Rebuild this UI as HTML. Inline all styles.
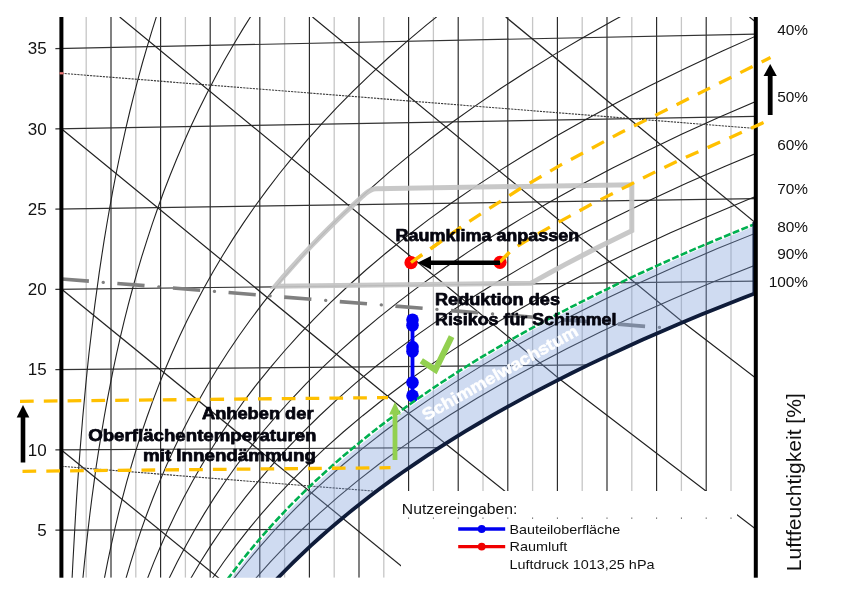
<!DOCTYPE html>
<html lang="de"><head><meta charset="utf-8"><title>Mollier h-x Diagramm</title>
<style>
html,body{margin:0;padding:0;background:#fff}
body{width:851px;height:600px;position:relative;overflow:hidden;font-family:"Liberation Sans",sans-serif}
svg{position:absolute;left:0;top:0;display:block}
</style></head><body>
<svg width="851" height="600" viewBox="0 0 851 600">
<defs><clipPath id="plot"><rect x="50" y="17" width="705.8" height="560.7"/></clipPath>
<clipPath id="above"><path d="M223,642.7 L229.1,634.7 L235.4,626.6 L241.9,618.5 L248.6,610.5 L255.6,602.4 L262.7,594.3 L270.1,586.2 L277.8,578.1 L285.7,570 L293.8,561.9 L302.2,553.8 L310.9,545.6 L319.9,537.5 L329.1,529.4 L338.7,521.2 L348.5,513.1 L358.7,504.9 L369.2,496.8 L380,488.6 L391.1,480.4 L402.6,472.3 L414.5,464.1 L426.7,455.9 L439.3,447.7 L452.3,439.4 L465.6,431.2 L479.4,423 L493.6,414.7 L508.3,406.4 L523.4,398.2 L538.9,389.9 L554.9,381.6 L571.4,373.3 L588.4,364.9 L605.9,356.6 L623.9,348.2 L642.4,339.8 L661.5,331.4 L681.1,323 L701.4,314.6 L722.2,306.2 L743.6,297.7 L765.7,289.2 L788.4,280.7 L811.7,272.2 L835.7,263.6 L860.5,255 L885.9,246.4 L912.1,237.8 L939,229.2 L966.7,220.5 L995.1,211.8 L1024.4,203 L1054.5,194.3 L1085.5,185.5 L1117.4,176.6 L1117.4,0 L0,0 L0,600 Z"/></clipPath></defs>
<rect width="851" height="600" fill="#fff"/>
<g clip-path="url(#plot)" fill="none">
<line x1="86.2" y1="17" x2="86.2" y2="577.7" stroke="#c6c6c6" stroke-width="1.3"/>
<line x1="111" y1="17" x2="111" y2="577.7" stroke="#262626" stroke-width="1.15"/>
<line x1="135.8" y1="17" x2="135.8" y2="577.7" stroke="#c6c6c6" stroke-width="1.3"/>
<line x1="160.6" y1="17" x2="160.6" y2="577.7" stroke="#262626" stroke-width="1.15"/>
<line x1="185.4" y1="17" x2="185.4" y2="577.7" stroke="#c6c6c6" stroke-width="1.3"/>
<line x1="210.2" y1="17" x2="210.2" y2="577.7" stroke="#262626" stroke-width="1.15"/>
<line x1="235" y1="17" x2="235" y2="577.7" stroke="#c6c6c6" stroke-width="1.3"/>
<line x1="259.8" y1="17" x2="259.8" y2="577.7" stroke="#262626" stroke-width="1.15"/>
<line x1="284.6" y1="17" x2="284.6" y2="577.7" stroke="#c6c6c6" stroke-width="1.3"/>
<line x1="309.4" y1="17" x2="309.4" y2="577.7" stroke="#262626" stroke-width="1.15"/>
<line x1="334.2" y1="17" x2="334.2" y2="577.7" stroke="#c6c6c6" stroke-width="1.3"/>
<line x1="359" y1="17" x2="359" y2="577.7" stroke="#262626" stroke-width="1.15"/>
<line x1="383.8" y1="17" x2="383.8" y2="577.7" stroke="#c6c6c6" stroke-width="1.3"/>
<line x1="408.6" y1="17" x2="408.6" y2="577.7" stroke="#262626" stroke-width="1.15"/>
<line x1="433.4" y1="17" x2="433.4" y2="577.7" stroke="#c6c6c6" stroke-width="1.3"/>
<line x1="458.2" y1="17" x2="458.2" y2="577.7" stroke="#262626" stroke-width="1.15"/>
<line x1="483" y1="17" x2="483" y2="577.7" stroke="#c6c6c6" stroke-width="1.3"/>
<line x1="507.8" y1="17" x2="507.8" y2="577.7" stroke="#262626" stroke-width="1.15"/>
<line x1="532.6" y1="17" x2="532.6" y2="577.7" stroke="#c6c6c6" stroke-width="1.3"/>
<line x1="557.4" y1="17" x2="557.4" y2="577.7" stroke="#262626" stroke-width="1.15"/>
<line x1="582.2" y1="17" x2="582.2" y2="577.7" stroke="#c6c6c6" stroke-width="1.3"/>
<line x1="607" y1="17" x2="607" y2="577.7" stroke="#262626" stroke-width="1.15"/>
<line x1="631.8" y1="17" x2="631.8" y2="577.7" stroke="#c6c6c6" stroke-width="1.3"/>
<line x1="656.6" y1="17" x2="656.6" y2="577.7" stroke="#262626" stroke-width="1.15"/>
<line x1="681.4" y1="17" x2="681.4" y2="577.7" stroke="#c6c6c6" stroke-width="1.3"/>
<line x1="706.2" y1="17" x2="706.2" y2="577.7" stroke="#262626" stroke-width="1.15"/>
<line x1="731" y1="17" x2="731" y2="577.7" stroke="#c6c6c6" stroke-width="1.3"/>
<line x1="55.4" y1="530.2" x2="329.1" y2="529.4" stroke="#333" stroke-width="1.2"/>
<line x1="55.4" y1="449.9" x2="439.3" y2="447.7" stroke="#333" stroke-width="1.2"/>
<line x1="55.4" y1="369.7" x2="588.4" y2="364.9" stroke="#333" stroke-width="1.2"/>
<line x1="55.4" y1="289.4" x2="755.8" y2="281.1" stroke="#333" stroke-width="1.2"/>
<line x1="55.4" y1="209.1" x2="755.8" y2="198.7" stroke="#333" stroke-width="1.2"/>
<line x1="55.4" y1="128.9" x2="755.8" y2="116.4" stroke="#333" stroke-width="1.2"/>
<line x1="55.4" y1="48.6" x2="755.8" y2="34.1" stroke="#333" stroke-width="1.2"/>
<path d="M70.1,626.5 L70.7,610.5 L71.4,594.4 L72.1,578.3 L72.9,562.3 L73.8,546.2 L74.7,530.1 L75.6,514.1 L76.6,498 L77.7,481.9 L78.9,465.9 L80.1,449.8 L81.4,433.7 L82.7,417.7 L84.2,401.6 L85.7,385.5 L87.3,369.4 L89,353.3 L90.9,337.2 L92.8,321.2 L94.8,305.1 L97,289 L99.2,272.9 L101.6,256.8 L104.1,240.6 L106.8,224.5 L109.6,208.4 L112.5,192.3 L115.6,176.1 L118.9,160 L122.4,143.9 L126,127.7 L129.8,111.5 L133.8,95.4 L138,79.2 L142.4,63 L147.1,46.8 L152,30.6 L157.1,14.4 L162.4,-1.9 L168.1,-18.1 L174,-34.4 L180.2,-50.6 L186.6,-66.9 L193.4,-83.2 L200.5,-99.5 L207.9,-115.9" stroke="#222" stroke-width="1.1"/>
<path d="M78.7,626.5 L80,610.5 L81.4,594.4 L82.9,578.3 L84.5,562.2 L86.2,546.2 L88,530.1 L89.9,514 L91.9,498 L94.1,481.9 L96.3,465.8 L98.8,449.7 L101.4,433.6 L104.1,417.5 L107,401.4 L110.1,385.3 L113.3,369.2 L116.7,353.1 L120.4,336.9 L124.2,320.8 L128.3,304.7 L132.6,288.5 L137.1,272.4 L141.9,256.2 L147,240.1 L152.3,223.9 L157.9,207.7 L163.8,191.5 L170.1,175.3 L176.7,159 L183.6,142.8 L190.8,126.5 L198.5,110.3 L206.6,94 L215,77.7 L223.9,61.3 L233.3,45 L243.1,28.6 L253.4,12.2 L264.2,-4.2 L275.5,-20.6 L287.4,-37.1 L299.8,-53.6 L312.9,-70.1 L326.5,-86.7 L340.9,-103.2 L355.9,-119.9" stroke="#222" stroke-width="1.1"/>
<path d="M96,626.5 L98.7,610.5 L101.5,594.4 L104.4,578.3 L107.6,562.2 L111,546.1 L114.6,530 L118.4,513.9 L122.5,497.8 L126.8,481.7 L131.4,465.6 L136.2,449.5 L141.4,433.3 L146.9,417.2 L152.7,401.1 L158.9,384.9 L165.4,368.7 L172.3,352.5 L179.6,336.3 L187.3,320.1 L195.5,303.9 L204.1,287.7 L213.2,271.4 L222.8,255.2 L233,238.9 L243.7,222.6 L255,206.2 L267,189.9 L279.5,173.5 L292.8,157.1 L306.7,140.7 L321.4,124.2 L336.8,107.7 L353.1,91.2 L370.2,74.6 L388.1,58 L407,41.4 L426.9,24.7 L447.7,7.9 L469.6,-8.8 L492.6,-25.7 L516.7,-42.6 L542,-59.5 L568.5,-76.5 L596.3,-93.6 L625.4,-110.7 L656,-127.9" stroke="#222" stroke-width="1.1"/>
<path d="M113.4,626.5 L117.3,610.5 L121.5,594.4 L126,578.3 L130.8,562.2 L135.8,546.1 L141.2,529.9 L147,513.8 L153.1,497.7 L159.6,481.6 L166.5,465.4 L173.8,449.2 L181.6,433.1 L189.8,416.9 L198.6,400.7 L207.8,384.5 L217.6,368.3 L228,352 L239,335.7 L250.6,319.5 L262.9,303.2 L275.9,286.8 L289.7,270.5 L304.2,254.1 L319.5,237.7 L335.7,221.2 L352.8,204.8 L370.8,188.3 L389.8,171.7 L409.8,155.1 L430.8,138.5 L453,121.8 L476.4,105.1 L501,88.3 L526.9,71.5 L554.1,54.6 L582.8,37.7 L612.9,20.7 L644.5,3.6 L677.8,-13.6 L712.7,-30.8 L749.4,-48.1 L787.9,-65.5 L828.3,-83.1 L870.8,-100.7 L915.3,-118.4 L962,-136.2" stroke="#222" stroke-width="1.1"/>
<path d="M130.8,626.5 L136,610.5 L141.6,594.3 L147.6,578.2 L153.9,562.1 L160.7,546 L167.9,529.9 L175.6,513.7 L183.8,497.6 L192.4,481.4 L201.7,465.2 L211.4,449 L221.8,432.8 L232.9,416.6 L244.5,400.3 L256.9,384.1 L270.1,367.8 L284,351.5 L298.7,335.1 L314.2,318.8 L330.7,302.4 L348.1,286 L366.5,269.5 L386,253 L406.5,236.5 L428.2,219.9 L451.1,203.3 L475.3,186.6 L500.8,169.9 L527.6,153.2 L556,136.3 L585.8,119.4 L617.2,102.5 L650.3,85.5 L685.2,68.4 L721.9,51.2 L760.5,34 L801.1,16.6 L843.8,-0.8 L888.7,-18.4 L935.9,-36 L985.6,-53.8 L1037.7,-71.7 L1092.5,-89.7 L1150.1,-107.8 L1210.5,-126.1 L1274,-144.6" stroke="#222" stroke-width="1.1"/>
<path d="M148.2,626.6 L154.7,610.5 L161.7,594.3 L169.2,578.2 L177.2,562.1 L185.7,545.9 L194.7,529.8 L204.3,513.6 L214.5,497.4 L225.4,481.2 L236.9,465 L249.2,448.8 L262.2,432.5 L276,416.3 L290.7,400 L306.2,383.7 L322.7,367.3 L340.1,350.9 L358.6,334.5 L378.1,318.1 L398.8,301.6 L420.6,285.1 L443.8,268.5 L468.2,251.9 L494,235.3 L521.3,218.6 L550.1,201.8 L580.5,185 L612.6,168.1 L646.4,151.2 L682.1,134.1 L719.7,117 L759.3,99.9 L801.1,82.6 L845.1,65.2 L891.4,47.8 L940.2,30.2 L991.6,12.5 L1045.7,-5.3 L1102.5,-23.2 L1162.4,-41.3 L1225.3,-59.5 L1291.5,-77.9 L1361.1,-96.4 L1434.3,-115.2 L1511.3,-134.1 L1592.2,-153.2" stroke="#222" stroke-width="1.1"/>
<path d="M165.6,626.6 L173.5,610.5 L181.9,594.3 L190.9,578.2 L200.4,562 L210.6,545.9 L221.5,529.7 L233,513.5 L245.3,497.3 L258.4,481.1 L272.3,464.8 L287,448.6 L302.7,432.3 L319.3,416 L336.9,399.6 L355.6,383.2 L375.4,366.8 L396.4,350.4 L418.7,333.9 L442.2,317.4 L467.1,300.8 L493.5,284.2 L521.4,267.6 L550.9,250.8 L582,234.1 L614.9,217.2 L649.7,200.3 L686.4,183.3 L725.2,166.3 L766.1,149.2 L809.2,131.9 L854.7,114.6 L902.7,97.2 L953.3,79.7 L1006.6,62 L1062.8,44.3 L1122,26.4 L1184.4,8.3 L1250.1,-9.8 L1319.3,-28.2 L1392.1,-46.7 L1468.7,-65.4 L1549.4,-84.2 L1634.3,-103.3 L1723.7,-122.6 L1817.8,-142.1 L1916.7,-161.9" stroke="#222" stroke-width="1.1"/>
<path d="M183,626.6 L192.2,610.5 L202.1,594.3 L212.5,578.2 L223.7,562 L235.6,545.8 L248.3,529.6 L261.8,513.4 L276.2,497.2 L291.5,480.9 L307.7,464.6 L324.9,448.3 L343.3,432 L362.7,415.7 L383.3,399.3 L405.2,382.8 L428.4,366.4 L453,349.9 L479,333.3 L506.6,316.7 L535.8,300 L566.7,283.3 L599.4,266.6 L634,249.7 L670.5,232.8 L709.1,215.9 L749.9,198.8 L793.1,181.7 L838.6,164.5 L886.7,147.1 L937.4,129.7 L990.9,112.2 L1047.4,94.5 L1107,76.7 L1169.8,58.8 L1236.1,40.7 L1305.9,22.5 L1379.6,4.1 L1457.2,-14.4 L1538.9,-33.2 L1625.1,-52.1 L1715.9,-71.3 L1811.5,-90.7 L1912.2,-110.3 L2018.4,-130.2 L2130.1,-150.4 L2247.9,-170.8" stroke="#222" stroke-width="1.1"/>
<path d="M200.5,626.6 L211,610.5 L222.3,594.3 L234.3,578.1 L247.1,562 L260.7,545.8 L275.2,529.5 L290.7,513.3 L307.1,497 L324.6,480.8 L343.2,464.5 L363,448.1 L383.9,431.7 L406.2,415.3 L429.9,398.9 L454.9,382.4 L481.5,365.9 L509.7,349.3 L539.6,332.7 L571.3,316 L604.8,299.3 L640.2,282.5 L677.8,265.6 L717.5,248.6 L759.5,231.6 L803.9,214.5 L850.8,197.3 L900.4,180 L952.8,162.6 L1008.2,145.1 L1066.6,127.5 L1128.3,109.7 L1193.5,91.8 L1262.2,73.8 L1334.7,55.6 L1411.3,37.2 L1492,18.6 L1577.1,-0.1 L1666.9,-19.1 L1761.6,-38.2 L1861.5,-57.6 L1966.8,-77.3 L2077.9,-97.2 L2194.9,-117.4 L2318.4,-137.9 L2448.5,-158.7 L2585.8,-179.9" stroke="#222" stroke-width="1.1"/>
<path d="M217.9,626.6 L229.8,610.5 L242.5,594.3 L256,578.1 L270.4,561.9 L285.8,545.7 L302.1,529.5 L319.6,513.2 L338.1,496.9 L357.8,480.6 L378.8,464.3 L401.1,447.9 L424.7,431.5 L449.9,415 L476.5,398.5 L504.8,382 L534.9,365.4 L566.7,348.8 L600.4,332.1 L636.2,315.3 L674,298.5 L714.1,281.6 L756.6,264.6 L801.5,247.5 L849,230.4 L899.2,213.1 L952.4,195.8 L1008.5,178.3 L1067.9,160.8 L1130.6,143.1 L1196.9,125.2 L1266.9,107.2 L1340.8,89.1 L1418.9,70.8 L1501.3,52.3 L1588.3,33.6 L1680.2,14.7 L1777.1,-4.4 L1879.5,-23.8 L1987.4,-43.4 L2101.4,-63.2 L2221.7,-83.4 L2348.6,-103.8 L2482.5,-124.6 L2623.9,-145.8 L2773.1,-167.3 L2930.7,-189.2" stroke="#222" stroke-width="1.1"/>
<line x1="61.4" y1="450" x2="760" y2="1018.7" stroke="#222" stroke-width="1.2"/>
<line x1="61.4" y1="289" x2="760" y2="858.4" stroke="#222" stroke-width="1.2"/>
<path d="M61.4,128.7 L445.9,444 L760,695.3" stroke="#222" stroke-width="1.2"/>
<path d="M119.7,17 L560.2,379.5 L760,532.4" stroke="#222" stroke-width="1.2"/>
<path d="M312.5,17 L683,322.3 L760,381.2" stroke="#222" stroke-width="1.2"/>
<line x1="505.7" y1="17" x2="760" y2="226.5" stroke="#222" stroke-width="1.2"/>
<line x1="749.5" y1="17" x2="756" y2="22.3" stroke="#222" stroke-width="1.2"/>
<g clip-path="url(#above)">
<line x1="61.4" y1="73.3" x2="755.8" y2="128.5" stroke="#3a3a3a" stroke-width="1.1" stroke-dasharray="2.2 1"/>
<line x1="61.4" y1="466.3" x2="755.8" y2="521.5" stroke="#3a3a3a" stroke-width="1.1" stroke-dasharray="2.2 1"/>
</g>
<line x1="61.7" y1="279" x2="665" y2="327.9" stroke="#808080" stroke-width="3.7" stroke-dasharray="27.3 28.5"/>
<line x1="61.7" y1="279" x2="665" y2="327.9" stroke="#808080" stroke-width="3.3" stroke-linecap="round" stroke-dasharray="0.1 55.7" stroke-dashoffset="-41.6"/>
<line x1="412.5" y1="320" x2="412.5" y2="395" stroke="#0000f5" stroke-width="3.8"/>
<circle cx="412.5" cy="319.7" r="6.3" fill="#0000f5"/>
<circle cx="412.5" cy="325.3" r="6.3" fill="#0000f5"/>
<circle cx="412.5" cy="347.1" r="6.3" fill="#0000f5"/>
<circle cx="412.5" cy="351.2" r="6.3" fill="#0000f5"/>
<circle cx="412.5" cy="382.5" r="6.3" fill="#0000f5"/>
<circle cx="412.5" cy="395.8" r="6.3" fill="#0000f5"/>
<path d="M208.4,611.5 L213.8,603.4 L219.3,595.3 L225,587.2 L230.9,579.1 L237,571.1 L243.3,563 L249.7,554.9 L256.4,546.8 L263.3,538.7 L270.4,530.6 L277.8,522.5 L285.4,514.3 L293.2,506.2 L301.3,498.1 L309.6,489.9 L318.2,481.8 L327,473.7 L336.1,465.5 L345.5,457.3 L355.2,449.2 L365.2,441 L375.4,432.8 L386,424.6 L397,416.4 L408.2,408.2 L419.8,400 L431.7,391.8 L444,383.5 L456.6,375.3 L469.7,367 L483.1,358.7 L496.9,350.5 L511.1,342.2 L525.7,333.9 L540.8,325.5 L556.3,317.2 L572.2,308.8 L588.6,300.5 L605.5,292.1 L622.8,283.7 L640.7,275.3 L659.1,266.9 L678,258.4 L697.4,249.9 L717.4,241.5 L737.9,233 L759,224.4 L780.8,215.9 L803.1,207.3 L826,198.7 L849.6,190.1 L873.9,181.5 L898.8,172.8 L924.4,164.1 L950.7,155.4 L977.8,146.7 L1005.6,137.9 L1034.1,129.1 L1063.5,120.2 L1093.6,111.4 L1117.4,176.6 L1085.5,185.5 L1054.5,194.3 L1024.4,203 L995.1,211.8 L966.7,220.5 L939,229.2 L912.1,237.8 L885.9,246.4 L860.5,255 L835.7,263.6 L811.7,272.2 L788.4,280.7 L765.7,289.2 L743.6,297.7 L722.2,306.2 L701.4,314.6 L681.1,323 L661.5,331.4 L642.4,339.8 L623.9,348.2 L605.9,356.6 L588.4,364.9 L571.4,373.3 L554.9,381.6 L538.9,389.9 L523.4,398.2 L508.3,406.4 L493.6,414.7 L479.4,423 L465.6,431.2 L452.3,439.4 L439.3,447.7 L426.7,455.9 L414.5,464.1 L402.6,472.3 L391.1,480.4 L380,488.6 L369.2,496.8 L358.7,504.9 L348.5,513.1 L338.7,521.2 L329.1,529.4 L319.9,537.5 L310.9,545.6 L302.2,553.8 L293.8,561.9 L285.7,570 L277.8,578.1 L270.1,586.2 L262.7,594.3 L255.6,602.4 L248.6,610.5 L241.9,618.5 L235.4,626.6 L229.1,634.7 L223,642.7Z" fill="#7a9ad8" fill-opacity="0.36" stroke="none"/>
<path d="M205.9,610.5 L211.3,602.4 L216.8,594.3 L222.5,586.2 L228.4,578.1 L234.5,570.1 L240.8,562 L247.2,553.9 L253.9,545.8 L260.8,537.7 L267.9,529.6 L275.3,521.5 L282.9,513.3 L290.7,505.2 L298.8,497.1 L307.1,488.9 L315.7,480.8 L324.5,472.7 L333.6,464.5 L343,456.3 L352.7,448.2 L362.7,440 L372.9,431.8 L383.5,423.6 L394.5,415.4 L405.7,407.2 L417.3,399 L429.2,390.8 L441.5,382.5 L454.1,374.3 L467.2,366 L480.6,357.7 L494.4,349.5 L508.6,341.2 L523.2,332.9 L538.3,324.5 L553.8,316.2 L569.7,307.8 L586.1,299.5 L603,291.1 L620.3,282.7 L638.2,274.3 L656.6,265.9 L675.5,257.4 L694.9,248.9 L714.9,240.5 L735.4,232 L756.5,223.4 L778.3,214.9 L800.6,206.3 L823.5,197.7 L847.1,189.1 L871.4,180.5 L896.3,171.8 L921.9,163.1 L948.2,154.4 L975.3,145.7 L1003.1,136.9 L1031.6,128.1 L1061,119.2 L1091.1,110.4" stroke="#00b050" stroke-width="2.6" stroke-dasharray="7 2.4"/>
<path d="M223,642.7 L229.1,634.7 L235.4,626.6 L241.9,618.5 L248.6,610.5 L255.6,602.4 L262.7,594.3 L270.1,586.2 L277.8,578.1 L285.7,570 L293.8,561.9 L302.2,553.8 L310.9,545.6 L319.9,537.5 L329.1,529.4 L338.7,521.2 L348.5,513.1 L358.7,504.9 L369.2,496.8 L380,488.6 L391.1,480.4 L402.6,472.3 L414.5,464.1 L426.7,455.9 L439.3,447.7 L452.3,439.4 L465.6,431.2 L479.4,423 L493.6,414.7 L508.3,406.4 L523.4,398.2 L538.9,389.9 L554.9,381.6 L571.4,373.3 L588.4,364.9 L605.9,356.6 L623.9,348.2 L642.4,339.8 L661.5,331.4 L681.1,323 L701.4,314.6 L722.2,306.2 L743.6,297.7 L765.7,289.2 L788.4,280.7 L811.7,272.2 L835.7,263.6 L860.5,255 L885.9,246.4 L912.1,237.8 L939,229.2 L966.7,220.5 L995.1,211.8 L1024.4,203 L1054.5,194.3 L1085.5,185.5 L1117.4,176.6" stroke="#0f1c3a" stroke-width="3.8"/>
<line x1="753.3" y1="222" x2="753.3" y2="293" stroke="#0f1c3a" stroke-width="1.6"/>
</g>
<rect x="59.4" y="17" width="4" height="560.7" fill="#000"/>
<rect x="753.8" y="17" width="4" height="560.7" fill="#000"/>
<rect x="59.6" y="72.2" width="4" height="2.2" fill="#f07878"/>
<rect x="401" y="491" width="336" height="87" fill="#fff"/>
<rect x="408.1" y="517.5" width="1" height="1.3" fill="#555"/>
<rect x="432.9" y="517.5" width="1" height="1.3" fill="#555"/>
<rect x="457.7" y="517.5" width="1" height="1.3" fill="#555"/>
<rect x="482.5" y="517.5" width="1" height="1.3" fill="#555"/>
<rect x="507.3" y="517.5" width="1" height="1.3" fill="#555"/>
<rect x="532.1" y="517.5" width="1" height="1.3" fill="#555"/>
<rect x="556.9" y="517.5" width="1" height="1.3" fill="#555"/>
<rect x="581.7" y="517.5" width="1" height="1.3" fill="#555"/>
<rect x="606.5" y="517.5" width="1" height="1.3" fill="#555"/>
<rect x="631.3" y="517.5" width="1" height="1.3" fill="#555"/>
<rect x="656.1" y="517.5" width="1" height="1.3" fill="#555"/>
<rect x="680.9" y="517.5" width="1" height="1.3" fill="#555"/>
<rect x="705.7" y="517.5" width="1" height="1.3" fill="#555"/>
<rect x="730.5" y="517.5" width="1" height="1.3" fill="#555"/>
<g font-family="Liberation Sans, sans-serif" fill="#111">
<text x="401.8" y="514.3" font-size="14.6" textLength="115.6" lengthAdjust="spacingAndGlyphs">Nutzereingaben:</text>
<text x="509.5" y="533.5" font-size="13.4" textLength="110.6" lengthAdjust="spacingAndGlyphs">Bauteiloberfläche</text>
<text x="509.5" y="550.8" font-size="13.4" textLength="57.8" lengthAdjust="spacingAndGlyphs">Raumluft</text>
<text x="509.5" y="568.5" font-size="13.4" textLength="145" lengthAdjust="spacingAndGlyphs">Luftdruck 1013,25 hPa</text>
</g>
<line x1="458.2" y1="529" x2="505.2" y2="529" stroke="#0000f0" stroke-width="3.4"/><circle cx="481.7" cy="529" r="3.9" fill="#0000f0"/>
<line x1="458.2" y1="546.6" x2="505.2" y2="546.6" stroke="#f00000" stroke-width="3.4"/><circle cx="481.7" cy="546.6" r="3.9" fill="#f00000"/>
<g font-family="Liberation Sans, sans-serif" fill="#111" font-size="17" text-anchor="end">
<text x="46.6" y="535.8">5</text>
<text x="46.6" y="455.5">10</text>
<text x="46.6" y="375.3">15</text>
<text x="46.6" y="295">20</text>
<text x="46.6" y="214.7">25</text>
<text x="46.6" y="134.5">30</text>
<text x="46.6" y="54.2">35</text>
</g>
<g font-family="Liberation Sans, sans-serif" fill="#111" font-size="15.4" text-anchor="end">
<text x="808" y="35.4">40%</text>
<text x="808" y="101.9">50%</text>
<text x="808" y="150.4">60%</text>
<text x="808" y="194.4">70%</text>
<text x="808" y="231.8">80%</text>
<text x="808" y="258.9">90%</text>
<text x="808" y="287.4">100%</text>
</g>
<text transform="translate(800.8,571.2) rotate(-90)" font-family="Liberation Sans, sans-serif" font-size="20" fill="#111" textLength="178" lengthAdjust="spacingAndGlyphs">Luftfeuchtigkeit [%]</text>
<path d="M275.2,286.3 L282.1,278.2 L289.3,270 L296.6,261.8 L304.1,253.6 L311.9,245.4 L319.8,237.2 L328,229 L336.4,220.7 L345,212.5 L353.8,204.3 L362.8,196 L365.5,193.7 Q371,188.8 376,188.7 L631.8,184.7 L631.8,230.8 L614.5,239.2 L597.7,247.6 L581.3,256 L565.3,264.4 L549.9,272.8 L534.8,281.1 L530.9,283.3 Z" fill="none" stroke="#c4c4c4" stroke-opacity="0.93" stroke-width="5" stroke-linejoin="miter"/>
<g fill="none" stroke="#ffc000" stroke-width="3.3" stroke-dasharray="13.7 10.1">
<line x1="20" y1="401.3" x2="388" y2="397.6"/>
<line x1="22.5" y1="471.3" x2="390.5" y2="467.7"/>
<path d="M411,262.5 L469.2,221.5 L518,190 L560,165.4 L620,133 L680,103 L770.5,57.5"/>
<path d="M500,262 L511,250.5 L525,241.5 L551.7,226 L590,205 L630,184.7 L657,171 L680,160 L767,121"/>
</g>
<circle cx="411" cy="262.7" r="6.6" fill="#ff0000"/><circle cx="500" cy="262.3" r="6.6" fill="#ff0000"/>
<path d="M411,262.5 L469.2,221.5" fill="none" stroke="#ffc000" stroke-width="3.3" stroke-dasharray="13.7 10.1"/>
<path d="M500,262 L511,250.5" fill="none" stroke="#ffc000" stroke-width="3.3" stroke-dasharray="13.7 10.1"/>
<line x1="500" y1="262.7" x2="428" y2="262.7" stroke="#000" stroke-width="4.4"/><path d="M417.5,262.7 L431,256 L431,269.4 Z" fill="#000"/>
<path d="M421.3,360.8 L435.4,369.8 L451.6,336.6" fill="none" stroke="#92d050" stroke-width="6.1" stroke-linejoin="miter"/>
<line x1="395" y1="460" x2="395" y2="413" stroke="#92d050" stroke-width="4.8"/><path d="M395,402 L400.9,414.5 L389.1,414.5 Z" fill="#92d050"/>
<line x1="23" y1="462.5" x2="23" y2="416" stroke="#000" stroke-width="4.6"/><path d="M23,405 L29.3,417.5 L16.7,417.5 Z" fill="#000"/>
<line x1="770.2" y1="115" x2="770.2" y2="74" stroke="#000" stroke-width="4.8"/><path d="M770.2,64 L776.8,76 L763.6,76 Z" fill="#000"/>
<g font-family="Liberation Sans, sans-serif" font-weight="bold" fill="#05050f" stroke="#05050f" stroke-width="0.75" stroke-linejoin="round" font-size="17.2">
<text x="395.5" y="241.3" textLength="183.8" lengthAdjust="spacingAndGlyphs">Raumklima anpassen</text>
<text x="435" y="305" textLength="125" lengthAdjust="spacingAndGlyphs">Reduktion des</text>
<text x="435" y="325" textLength="181.5" lengthAdjust="spacingAndGlyphs">Risikos für Schimmel</text>
<text x="202" y="419" textLength="111.5" lengthAdjust="spacingAndGlyphs">Anheben der</text>
<text x="88.2" y="440.5" textLength="228.3" lengthAdjust="spacingAndGlyphs">Oberflächentemperaturen</text>
<text x="143" y="461" textLength="173" lengthAdjust="spacingAndGlyphs">mit Innendämmung</text>
</g>
<text transform="translate(426,421) rotate(-29.4)" font-family="Liberation Sans, sans-serif" font-weight="bold" font-size="16.6" fill="#fff" stroke="#fff" stroke-width="0.5" textLength="176" lengthAdjust="spacingAndGlyphs">Schimmelwachstum</text>
</svg>
</body></html>
